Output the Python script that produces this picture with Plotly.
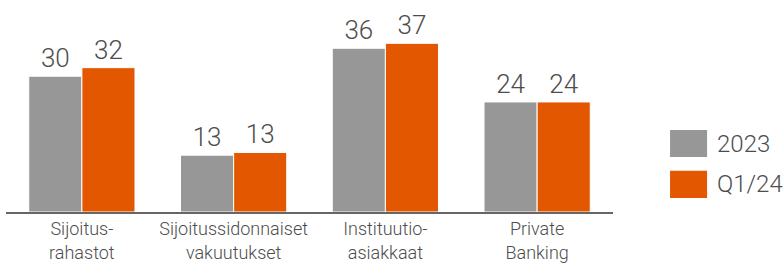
import plotly.graph_objects as go

categories = ["Sijoitus-<br>rahastot", "Sijoitussidonnaiset<br>vakuutukset", "Instituutio-<br>asiakkaat", "Private<br>Banking"]
series_names = ["2023", "Q1/24"]
values_2023 = [30.1, 12.6, 36.3, 24.4]
values_q124 = [32.0, 13.2, 37.4, 24.4]
colors = ["#979797", "#E25700"]

FONT = "Roboto"
TXT = "#4d4d4d"

fig = go.Figure()
for name, vals, col in zip(series_names, [values_2023, values_q124], colors):
    fig.add_trace(go.Bar(
        x=categories, y=vals, name=name,
        marker=dict(color=col, line=dict(color="white", width=1)),
        texttemplate="%{y:.0f}", textposition="outside", cliponaxis=False,
        textfont=dict(family=FONT, size=26, color=TXT, weight=300),
        showlegend=False,
    ))

# legend drawn as swatches + labels in paper coordinates
leg_y = [0.323, 0.130]
for i, (name, col) in enumerate(zip(series_names, colors)):
    fig.add_shape(type="rect", xref="paper", yref="paper",
                  x0=1.094, x1=1.155, y0=leg_y[i] - 0.064, y1=leg_y[i] + 0.064,
                  fillcolor=col, line=dict(width=0))
    fig.add_annotation(xref="paper", yref="paper", x=1.168, y=leg_y[i],
                       text=name, showarrow=False, xanchor="left", yanchor="middle",
                       font=dict(family=FONT, size=24, color=TXT, weight=300))

fig.update_layout(
    width=784, height=264,
    margin=dict(l=6, r=171, t=0, b=52, autoexpand=False),
    paper_bgcolor="white", plot_bgcolor="white",
    barmode="group", bargap=0.30, bargroupgap=0.0,
    xaxis=dict(showline=True, linecolor="#666666", linewidth=1.5, ticks="",
               automargin=False,
               tickfont=dict(family=FONT, size=18, color=TXT, weight=300),
               showgrid=False),
    yaxis=dict(range=[0, 47], visible=False, showgrid=False, automargin=False),
)

fig.write_html("out.html", config={"displayModeBar": False},
               post_script="document.body.style.margin='0';document.body.style.overflow='hidden';")
